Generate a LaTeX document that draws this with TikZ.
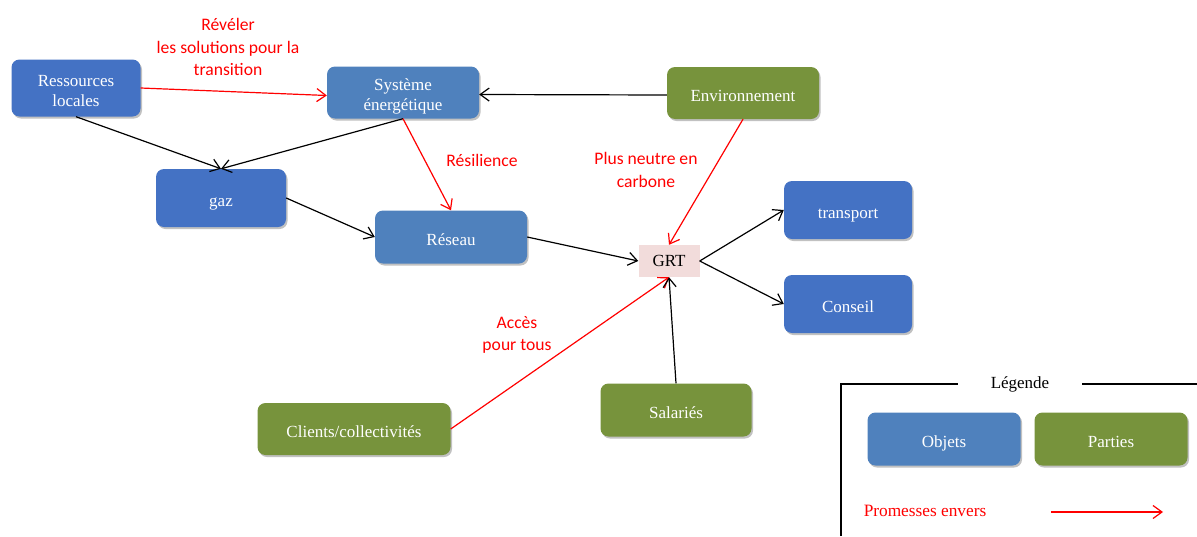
\documentclass[tikz,border=0pt]{standalone}
\usepackage{fontspec}
\setmainfont{Liberation Serif}
\newfontfamily\calib{Carlito}
\usetikzlibrary{arrows.meta,shadows}
\definecolor{bluea}{HTML}{4472C4}
\definecolor{blueb}{HTML}{4F81BD}
\definecolor{greenp}{HTML}{77933C}
\definecolor{grtpink}{HTML}{F2DCDB}
\definecolor{redp}{HTML}{FF0000}
\tikzset{
  box/.style={rounded corners=8pt, text=white, align=center, inner sep=0pt,
    font=\fontsize{17}{20}\selectfont, text height=16.5pt, text depth=0pt,
    drop shadow={shadow xshift=1.5pt, shadow yshift=-2pt, opacity=0.35, fill=black!70}},
  twoline/.style={text height=36pt, text depth=0pt},
  objA/.style={box, fill=bluea},
  objB/.style={box, fill=blueb},
  party/.style={box, fill=greenp},
  conn/.style={line width=1.2pt, -{Straight Barb[length=9pt,width=13pt,line width=1.2pt]}},
  blackconn/.style={conn, draw=black},
  redconn/.style={conn, draw=redp},
  redlab/.style={text=redp, align=center, font=\calib\fontsize{17.6}{22.5}\selectfont, inner sep=0pt},
}
\begin{document}
\begin{tikzpicture}[x=1pt,y=-1pt]
\useasboundingbox (0,0) rectangle (1197,536);
% nodes
\node[objA, twoline, minimum width=129pt, minimum height=57pt] (res) at (76,88) {Ressources\\locales};
\node[objB, twoline, minimum width=152pt, minimum height=52pt] (sys) at (403,92.5) {Système\\énergétique};
\node[party, minimum width=152pt, minimum height=52pt] (env) at (743,93) {Environnement};
\node[objA, minimum width=130pt, minimum height=58pt] (gaz) at (221,198) {gaz};
\node[objB, minimum width=152pt, minimum height=53pt] (reseau) at (451,237) {Réseau};
\node[fill=grtpink, minimum width=61pt, minimum height=32pt, inner sep=0pt, font=\fontsize{17}{20}\selectfont] (grt) at (669,261) {GRT};
\node[objA, minimum width=128pt, minimum height=58pt] (transport) at (848,210) {transport};
\node[objA, minimum width=128pt, minimum height=58pt] (conseil) at (848,304) {Conseil};
\node[party, minimum width=193pt, minimum height=52pt] (clients) at (354,429) {Clients/collectivités};
\node[party, minimum width=151pt, minimum height=53pt] (sal) at (676,410) {Salariés};
% connectors
\draw[redconn] (res.east) -- ([yshift=-3pt]sys.west);
\draw[blackconn] ([yshift=-2pt]env.west) -- ([yshift=-2pt]sys.east);
\draw[blackconn] (res.south) -- (gaz.north);
\draw[blackconn] (sys.south) -- (gaz.north);
\draw[redconn] (sys.south) -- (reseau.north);
\draw[blackconn] (gaz.east) -- (reseau.west);
\draw[blackconn] (reseau.east) -- (grt.west);
\draw[redconn] (env.south) -- (grt.north);
\draw[blackconn] (grt.east) -- (transport.west);
\draw[blackconn] (grt.east) -- (conseil.west);
\draw[redconn] (clients.east) -- (grt.south);
\draw[blackconn] (sal.north) -- (grt.south);
% red labels
\node[redlab] (l1) at (228,47) {Révéler\\les solutions pour la\\transition};
\node[redlab] (l2) at (482,160) {Résilience};
\node[redlab] (l3) at (646,170) {Plus neutre en\\carbone};
\node[redlab] (l4) at (517,335) {Accès\\pour tous};
% legend
\node[font=\fontsize{17}{20}\selectfont, inner sep=0pt] (leg) at (1020,384) {Légende};
\coordinate (fa) at (841,536);
\coordinate (fb) at (841,384);
\coordinate (fc) at (958,384);
\coordinate (fd) at (1082,384);
\coordinate (fe) at (1197,384);
\draw[line width=1.5pt] (fa) -- (fb) -- (fc);
\draw[line width=1.5pt] (fd) -- (fe);
\node[objB, minimum width=153pt, minimum height=53pt] (obj) at (944,439) {Objets};
\node[party, minimum width=153pt, minimum height=53pt] (par) at (1111,439) {Parties};
\node[text=redp, font=\fontsize{17.3}{20}\selectfont, inner sep=0pt] (prom) at (925,511) {Promesses envers};
\coordinate (pa) at (1051,512);
\coordinate (pb) at (1163,512);
\draw[redconn] (pa) -- (pb);
\end{tikzpicture}
\end{document}
